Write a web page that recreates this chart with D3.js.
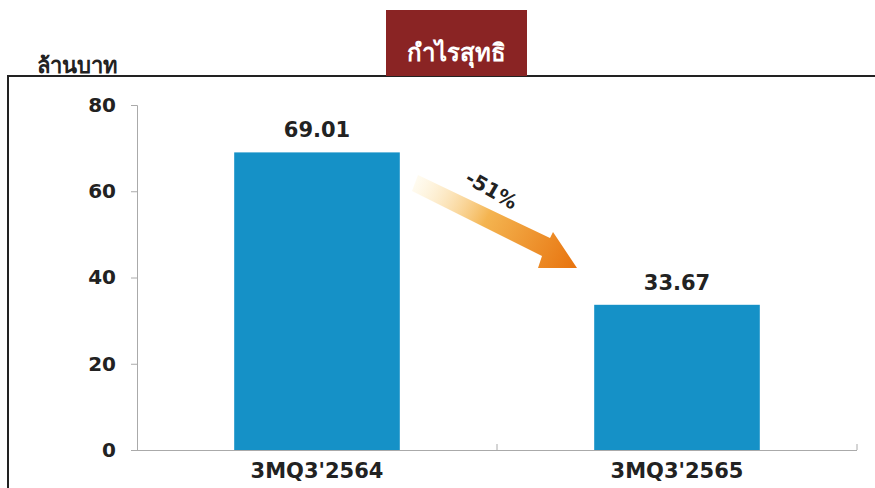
<!DOCTYPE html>
<html><head><meta charset="utf-8">
<script src="https://cdn.jsdelivr.net/npm/d3@7"></script>
<style>html,body{margin:0;padding:0;background:#fff;overflow:hidden}</style>
</head><body>
<svg id="c" width="875" height="488"></svg>
<script>
const categories = ["3MQ3'2564", "3MQ3'2565"];
const values = [69.01, 33.67];
const valueLabels = ["69.01", "33.67"];
const yTicks = [0, 20, 40, 60, 80];
const title = "กำไรสุทธิ";
const unitLabel = "ล้านบาท";
const changeLabel = "-51%";

const svg = d3.select("#c");
const m = {left: 137, right: 857, top: 105, bottom: 450};

const x = d3.scaleBand().domain(categories).range([m.left, m.right]).paddingInner(0.54).paddingOuter(0.27);
const y = d3.scaleLinear().domain([0, 80]).range([m.bottom, m.top]);

// frame
svg.append("path").attr("d", `M8,488 L8,76 L875,76`).attr("fill","none").attr("stroke","#222").attr("stroke-width",2);

// title box
svg.append("rect").attr("x",386).attr("y",10).attr("width",141).attr("height",66).attr("fill","#8a2424");
svg.append("text").attr("x",456).attr("y",61).attr("text-anchor","middle").attr("fill","#fff")
  .attr("font-family","'Noto Sans', 'DejaVu Sans', sans-serif").attr("font-weight","bold").attr("font-size",24).text(title);

// unit label
svg.append("text").attr("x",37).attr("y",73).attr("fill","#222")
  .attr("font-family","'Noto Sans', 'DejaVu Sans', sans-serif").attr("font-weight","bold").attr("font-size",22).text(unitLabel);

// y axis
const yAxis = svg.append("g").attr("transform",`translate(${m.left},0)`)
  .call(d3.axisLeft(y).tickValues(yTicks).tickSize(6).tickPadding(15).tickFormat(d3.format("d")));
yAxis.select(".domain").attr("stroke","#aaa");
yAxis.selectAll(".tick line").attr("stroke","#aaa");
yAxis.selectAll("text").attr("font-family","'DejaVu Sans', Verdana, sans-serif").attr("font-weight","bold").attr("font-size",20).attr("fill","#222");

// x axis
const xAxis = svg.append("g").attr("transform",`translate(0,${m.bottom})`)
  .call(d3.axisBottom(x).tickSize(0).tickPadding(13));
xAxis.select(".domain").attr("stroke","#aaa").attr("d",`M${m.left-5},0.5H${m.right}`);
xAxis.selectAll("text").attr("font-family","'DejaVu Sans', Verdana, sans-serif").attr("font-weight","bold").attr("font-size",21).attr("fill","#222");
const seps = [m.left + (m.right-m.left)/2, m.right];
xAxis.selectAll("line.sep").data(seps).enter().append("line").attr("class","sep")
  .attr("x1",d=>d).attr("x2",d=>d).attr("y1",0).attr("y2",-6).attr("stroke","#aaa");

// bars
svg.selectAll("rect.bar").data(values).enter().append("rect").attr("class","bar")
  .attr("x",(d,i)=>x(categories[i])).attr("width",x.bandwidth())
  .attr("y",d=>y(d)).attr("height",d=>y(0)-y(d)).attr("fill","#1591c7");

// value labels
svg.selectAll("text.val").data(values).enter().append("text").attr("class","val")
  .attr("x",(d,i)=>x(categories[i])+x.bandwidth()/2).attr("y",d=>y(d)-15)
  .attr("text-anchor","middle").attr("font-family","'DejaVu Sans', Verdana, sans-serif")
  .attr("font-weight","bold").attr("font-size",21).attr("fill","#222").text((d,i)=>valueLabels[i]);

// arrow
const defs = svg.append("defs");
const g = defs.append("linearGradient").attr("id","ag").attr("gradientUnits","userSpaceOnUse")
  .attr("x1",415).attr("y1",180).attr("x2",575).attr("y2",265);
g.append("stop").attr("offset","0").attr("stop-color","#fff3d0").attr("stop-opacity",0.3);
g.append("stop").attr("offset","0.45").attr("stop-color","#f4b450");
g.append("stop").attr("offset","1").attr("stop-color","#e87510");
svg.append("path").attr("fill","url(#ag)")
  .attr("d","M418,175 L550,238 L553,232 L577,268 L538,268 L542,256 L412,191 Z");

// change label
svg.append("text").attr("transform","translate(488,196) rotate(30)").attr("text-anchor","middle")
  .attr("font-family","'DejaVu Sans', Verdana, sans-serif").attr("font-weight","bold").attr("font-size",20).attr("fill","#222").text(changeLabel);
</script>
</body></html>
